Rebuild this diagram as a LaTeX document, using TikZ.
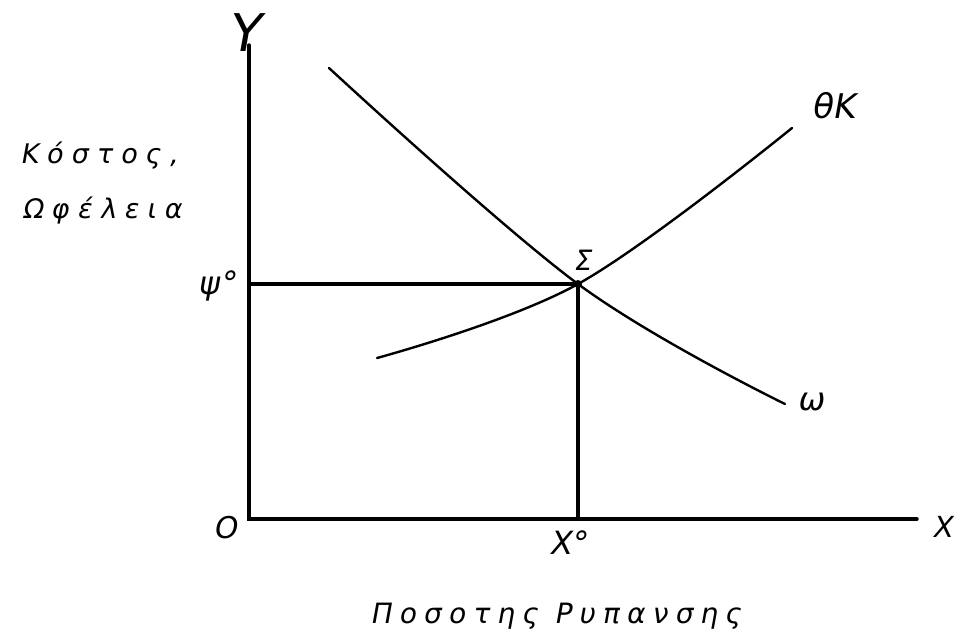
\documentclass[tikz,border=0pt]{standalone}
\usepackage{fontspec}
\newfontfamily\hand{DejaVu Sans}[FakeSlant=0.18]
\newfontfamily\handwide{DejaVu Sans}[FakeSlant=0.18,LetterSpace=30]
\newfontfamily\handmid{DejaVu Sans}[FakeSlant=0.18,LetterSpace=26]
\tikzset{
  axisline/.style={line width=3.4pt, line cap=round},
  guide/.style={line width=3.2pt},
  curveline/.style={line width=2.4pt, line cap=round},
  lbl/.style={inner sep=0pt, font=\hand},
}
\begin{document}
\begin{tikzpicture}[x=1pt,y=-1pt]
\useasboundingbox[fill=white] (0,0) rectangle (955,641);
% key points
\coordinate (O) at (249,519);
\coordinate (Ytop) at (249,45);
\coordinate (Xend) at (917,519);
\coordinate (S) at (578,284);
\coordinate (Psi) at (249,284);
\coordinate (X0) at (578,519);
% axes
\draw[axisline] (Ytop) -- (O) -- (Xend);
% guides
\draw[guide] (Psi) -- (S) -- (X0);
% curves
\draw[curveline] plot[smooth, tension=0.6] coordinates {(329,68) (578,284) (785,404)};
\draw[curveline] plot[smooth, tension=0.6] coordinates {(377,358) (578,284) (792,128)};
\fill (S) circle (4pt);
% labels
\node[lbl, font=\hand\fontsize{52}{52}\selectfont] (ylab) at (243,33) {Y};
\node[lbl, font=\hand\fontsize{29}{29}\selectfont] (xlab) at (942,527) {X};
\node[lbl, font=\hand\fontsize{30}{30}\selectfont] (olab) at (225,528) {O};
\node[lbl, font=\hand\fontsize{32}{32}\selectfont] (x0lab) at (568,543) {X°};
\node[lbl, font=\hand\fontsize{32}{32}\selectfont] (psilab) at (217,286) {ψ°};
\node[lbl, font=\hand\fontsize{28}{28}\selectfont] (slab) at (582,260) {Σ};
\node[lbl, font=\hand\fontsize{32}{32}\selectfont] (wlab) at (811,402) {ω};
\node[lbl, font=\hand\fontsize{34}{34}\selectfont] (thlab) at (833,106) {θΚ};
\node[lbl, anchor=west, font=\handwide\fontsize{27}{27}\selectfont] (kost) at (20,156) {Κόστος,};
\node[lbl, anchor=west, font=\handwide\fontsize{27}{27}\selectfont] (ofel) at (22,211) {Ωφέλεια};
\node[lbl, anchor=west, font=\handmid\fontsize{28}{28}\selectfont] (posot) at (370,616) {Ποσοτης Ρυπανσης};
\end{tikzpicture}
\end{document}
